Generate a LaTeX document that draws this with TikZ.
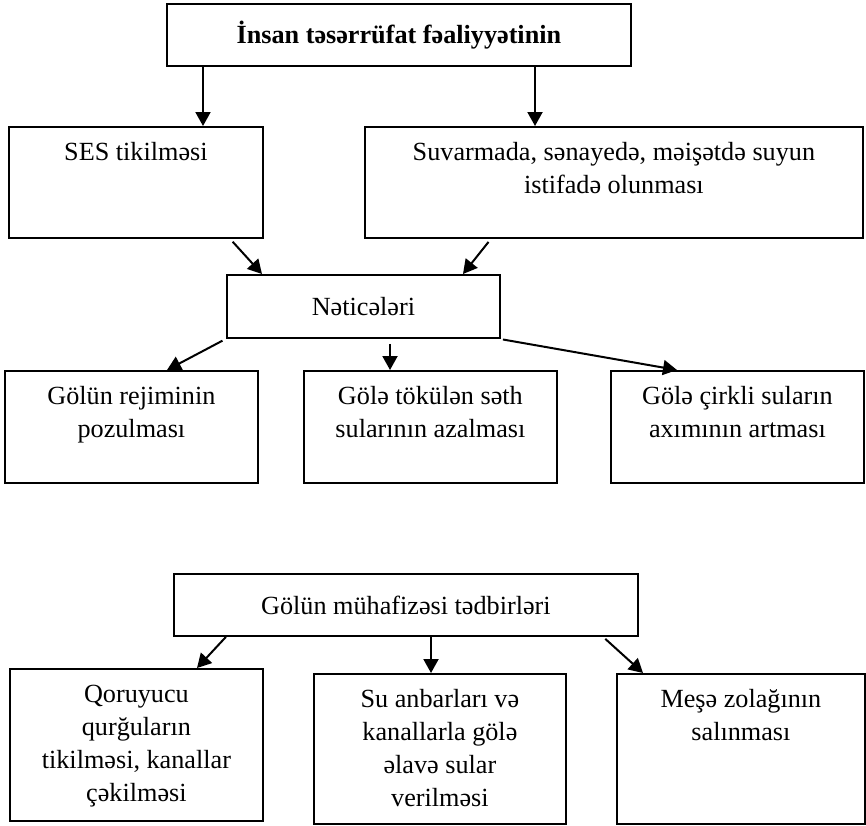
\documentclass[tikz,border=0pt]{standalone}
\usepackage{fontspec}
\setmainfont{Liberation Serif}
\usetikzlibrary{arrows.meta}

\begin{document}
\begin{tikzpicture}[x=0.5pt, y=-0.5pt,
  qutu/.style={draw, line width=.9pt, inner sep=0pt, anchor=north west, align=center, font=\fontsize{13.1}{16.5}\selectfont},
  ucqutu/.style={qutu, text height=17pt+(#1-1)*16.5pt},
  ucqutu/.default=1,
  ox/.style={line width=1pt, -{Triangle[length=7pt,width=7.5pt]}}]
\useasboundingbox (0,0) rectangle (866,825);
\node[qutu, minimum width=232pt, minimum height=31pt, font=\fontsize{13.1}{16.5}\selectfont\bfseries] (insan) at (166,3) {İnsan təsərrüfat fəaliyyətinin};
\node[ucqutu, minimum width=127pt, text depth=38.5pt] (ses) at (8,126) {SES tikilməsi};
\node[ucqutu=2, minimum width=249pt, text depth=22pt] (suv) at (364,126) {Suvarmada, sənayedə, məişətdə suyun\\istifadə olunması};
\node[qutu, minimum width=136.5pt, minimum height=31.5pt] (net) at (226,274) {Nəticələri};
\node[ucqutu=2, minimum width=126.5pt, text depth=22.5pt] (rej) at (4,370) {Gölün rejiminin\\pozulması};
\node[ucqutu=2, minimum width=126.5pt, text depth=22.5pt] (tok) at (303,370) {Gölə tökülən səth\\sularının azalması};
\node[ucqutu=2, minimum width=126.5pt, text depth=22.5pt] (cir) at (610,370) {Gölə çirkli suların\\axımının artması};
\draw[ox] (insan.south -| 203,0) -- (ses.north -| 203,0);
\draw[ox] (insan.south -| 535,0) -- (suv.north -| 535,0);
\draw[ox, shorten <=2pt] (ses.south -| 230,0) -- (net.north -| 262,0);
\draw[ox, shorten <=2pt] (suv.south -| 491,0) -- (net.north -| 463,0);
\draw[ox, shorten <=2pt] (net.south -| 226,0) -- (rej.north -| 167,0);
\draw[ox, shorten <=2.5pt] (net.south -| 390,0) -- (tok.north -| 390,0);
\draw[ox, shorten <=2pt] (net.south -| 499,0) -- (cir.north -| 677,0);
\node[qutu, minimum width=232pt, minimum height=31pt] (muh) at (173,573) {Gölün mühafizəsi tədbirləri};
\node[ucqutu=4, minimum width=126.5pt, text depth=9.5pt] (qor) at (9,668) {Qoruyucu\\qurğuların\\tikilməsi, kanallar\\çəkilməsi};
\node[ucqutu=4, minimum width=126pt, text depth=8.5pt] (anb) at (313,673) {Su anbarları və\\kanallarla gölə\\əlavə sular\\verilməsi};
\node[ucqutu=2, minimum width=124pt, text depth=41.5pt] (mes) at (616,673) {Meşə zolağının\\salınması};
\draw[ox] (muh.south -| 226,0) -- (qor.north -| 197,0);
\draw[ox] (muh.south -| 431,0) -- (anb.north -| 431,0);
\draw[ox, shorten <=1.5pt] (muh.south -| 603,0) -- (mes.north -| 643,0);
\end{tikzpicture}
\end{document}
